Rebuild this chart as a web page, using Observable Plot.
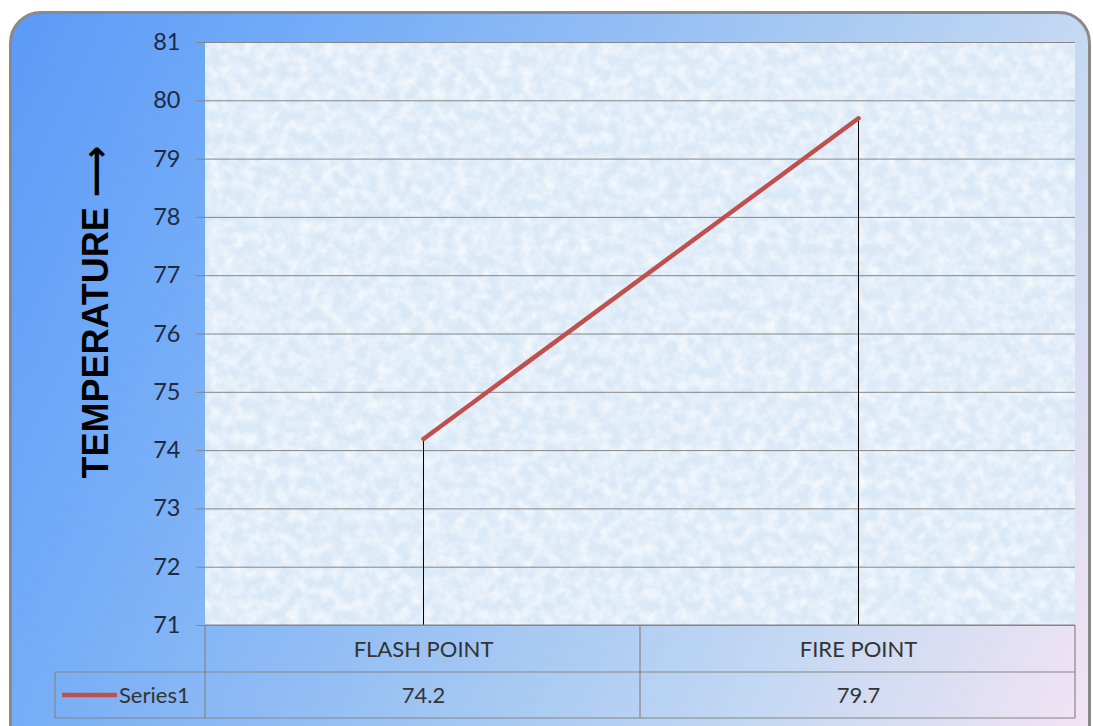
<!DOCTYPE html>
<html><head><meta charset="utf-8">
<script src="https://cdn.jsdelivr.net/npm/d3@7"></script>
<script src="https://cdn.jsdelivr.net/npm/@observablehq/plot@0.6"></script>
<style>
body{margin:0;background:#fff;}
#wrap{position:relative;width:1093px;height:726px;overflow:hidden;background:#fff}
#bg{position:absolute;left:9px;top:11px;width:1076px;height:740px;border:3px solid #8a8a8a;border-radius:32px;
 background:linear-gradient(115deg,#5b9af7 0%,#74acf7 22%,#9cc3f3 50%,#c3d8f2 75%,#f4e4f4 100%);}
#chart{position:absolute;left:0;top:0}
</style></head><body><div id="wrap"><div id="bg"></div><div id="chart"></div></div>
<script>
const categories = ["FLASH POINT", "FIRE POINT"];
const values = [74.2, 79.7];
const seriesName = "Series1";
const yTicks = [71, 72, 73, 74, 75, 76, 77, 78, 79, 80, 81];
const yTitle = "TEMPERATURE";

const data = categories.map((c, i) => ({category: c, value: values[i]}));

const W = 1093, H = 726, mL = 205, mR = 18, mT = 42, mB = 101;
const lineColor = "#c0504d", gridColor = "#868686", textColor = "#333";
const font = "Lato, 'Open Sans', sans-serif";

const plot = Plot.plot({
  width: W, height: H,
  marginLeft: mL, marginRight: mR, marginTop: mT, marginBottom: mB,
  style: {background: "transparent", fontFamily: font, fontSize: "22px", color: "#1e2a40", overflow: "visible"},
  x: {type: "point", domain: categories, padding: 0.5, axis: null},
  y: {domain: [71, 81], ticks: yTicks, label: null, axis: null},
  marks: [
    Plot.gridY(yTicks, {stroke: gridColor, strokeOpacity: 1, strokeWidth: 1}),
    Plot.axisY(yTicks, {tickSize: 9, tickPadding: 16, stroke: gridColor, label: null, tickFormat: d => String(d)}),
    Plot.ruleX(data, {x: "category", y1: 71, y2: "value", stroke: "#000", strokeWidth: 1}),
    Plot.line(data, {x: "category", y: "value", stroke: lineColor, strokeWidth: 4.5}),
    Plot.text(data, {x: "category", text: "category", frameAnchor: "bottom", dy: 31, fill: textColor}),
    Plot.text(data, {x: "category", text: d => d.value.toFixed(1), frameAnchor: "bottom", dy: 77, fill: textColor})
  ]
});
document.getElementById("chart").appendChild(plot);

const svg = d3.select(plot);
svg.selectAll("text").style("font-size", "22px");
svg.selectAll("[aria-label='y-axis tick label'] text").attr("fill", "#1e2a40").style("font-size", "23.5px");

// textured plot area background
const defs = svg.insert("defs", ":first-child");
const f = defs.append("filter").attr("id", "tex").attr("x", 0).attr("y", 0).attr("width", 1).attr("height", 1);
f.append("feTurbulence").attr("type", "fractalNoise").attr("baseFrequency", "0.09").attr("numOctaves", 4).attr("seed", 7).attr("result", "n");
f.append("feColorMatrix").attr("in", "n").attr("type", "matrix")
  .attr("values", "0 0 0 0 1  0 0 0 0 1  0 0 0 0 1  1.4 0 0 0 -0.5");
const f2 = defs.append("filter").attr("id", "tex2").attr("x", 0).attr("y", 0).attr("width", 1).attr("height", 1);
f2.append("feTurbulence").attr("type", "fractalNoise").attr("baseFrequency", "0.03").attr("numOctaves", 3).attr("seed", 11).attr("result", "n");
f2.append("feColorMatrix").attr("in", "n").attr("type", "matrix")
  .attr("values", "0 0 0 0 0.72  0 0 0 0 0.83  0 0 0 0 0.95  0 1.1 0 0 -0.5");

const bgG = svg.insert("g", "defs + *");
const pw = W - mL - mR, ph = H - mT - mB;
bgG.append("rect").attr("x", mL).attr("y", mT).attr("width", pw).attr("height", ph).attr("fill", "#dbe9f7");
bgG.append("rect").attr("x", mL).attr("y", mT).attr("width", pw).attr("height", ph).attr("filter", "url(#tex2)");
bgG.append("rect").attr("x", mL).attr("y", mT).attr("width", pw).attr("height", ph).attr("filter", "url(#tex)");

// data table borders
const right = W - mR, mid = mL + pw / 2, bottom = H - mB;
const r1 = bottom + 47, r2 = bottom + 93, legL = 55;
const tg = svg.append("g").attr("stroke", gridColor).attr("stroke-width", 1.2).attr("fill", "none");
tg.append("line").attr("x1", mL).attr("x2", right).attr("y1", bottom).attr("y2", bottom);
tg.append("line").attr("x1", legL).attr("x2", right).attr("y1", r1).attr("y2", r1);
tg.append("line").attr("x1", legL).attr("x2", right).attr("y1", r2).attr("y2", r2);
tg.append("line").attr("x1", legL).attr("x2", legL).attr("y1", r1).attr("y2", r2);
[mL, mid, right].forEach(x => tg.append("line").attr("x1", x).attr("x2", x).attr("y1", bottom).attr("y2", r2));

// legend in table
const ly = (r1 + r2) / 2;
svg.append("line").attr("x1", 62).attr("x2", 117).attr("y1", ly).attr("y2", ly).attr("stroke", lineColor).attr("stroke-width", 4.5);
svg.append("text").attr("x", 119).attr("y", ly).attr("dy", "0.35em").attr("fill", textColor).attr("text-anchor", "start")
  .style("font", "22px " + font).text(seriesName);

// y title
const t = svg.append("text").attr("transform", "translate(108,312) rotate(-90)").attr("text-anchor", "middle")
  .attr("fill", "#000").style("font", "bold 36px 'Liberation Sans', Arial, sans-serif");
t.append("tspan").text(yTitle + " ");
t.append("tspan").style("font-family", "'DejaVu Sans'").style("font-weight", "bold").text("⟶");
</script></body></html>
